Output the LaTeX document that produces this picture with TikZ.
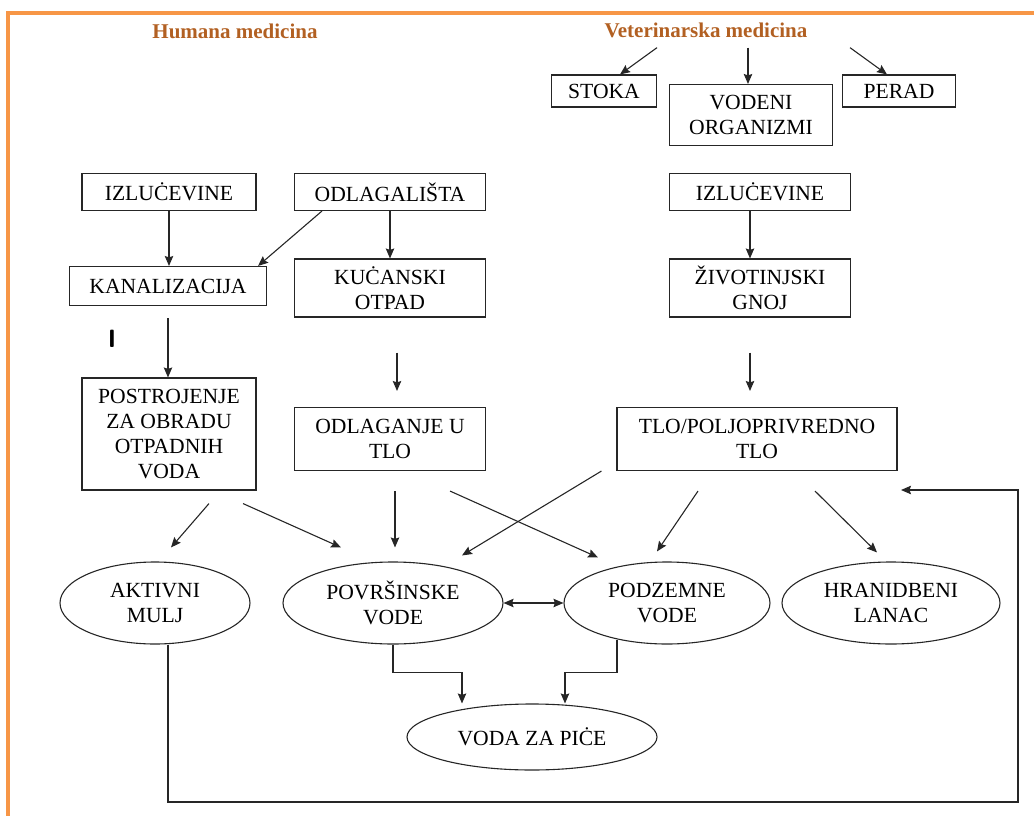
\documentclass[tikz,border=0pt]{standalone}
\usepackage{fontspec}
\setmainfont{Liberation Serif}
\usetikzlibrary{arrows.meta, shapes.geometric}
\definecolor{headbrown}{RGB}{178,96,34}
\definecolor{frameorange}{RGB}{247,150,70}

\begin{document}
\begin{tikzpicture}[
    x=1pt, y=-1pt,
    >={Stealth[length=10pt,width=8.5pt,inset=1.5pt]},
    font=\fontsize{21.6}{25}\selectfont,
    box/.style={draw=black!85, line width=1.1pt, rectangle, inner sep=0pt, align=center},
    oval/.style={draw=black!85, line width=1.1pt, ellipse, inner xsep=-12pt, inner ysep=-6pt, align=center},
    head/.style={text=headbrown, font=\fontsize{21}{23}\selectfont\bfseries, inner sep=0pt},
    flow/.style={->, draw=black!85, line width=1.1pt}
]
\useasboundingbox (0,0) rectangle (1034,816);
\draw[frameorange, line width=3.5pt] (8,830) -- (8,13) -- (1040,13);

\node[head] (hum) at (235,31) {Humana medicina};
\node[head] (vet) at (706,30) {Veterinarska medicina};

% gornji red
\node[box, minimum width=105pt, minimum height=32pt] (stoka) at (604,91) {STOKA};
\node[box, minimum width=163pt, minimum height=61pt] (vodeni) at (751,115) {VODENI\\ORGANIZMI};
\node[box, minimum width=113pt, minimum height=32pt] (perad) at (899,91) {PERAD};

\node[box, minimum width=174pt, minimum height=37pt] (izl1) at (169,192) {IZLUĊEVINE};
\node[box, minimum width=191pt, minimum height=37pt] (odl) at (390,192) {ODLAGALIŠTA};
\node[box, minimum width=181pt, minimum height=37pt] (izl2) at (760,192) {IZLUĊEVINE};

\node[box, minimum width=197pt, minimum height=39pt] (kan) at (168,286) {KANALIZACIJA};
\node[box, minimum width=191pt, minimum height=58pt] (kuc) at (390,288) {KUĊANSKI\\OTPAD};
\node[box, minimum width=181pt, minimum height=58pt] (ziv) at (760,288) {ŽIVOTINJSKI\\GNOJ};

\node[font=\sffamily\bfseries\fontsize{25}{27}\selectfont] (mark) at (112,339) {I};

\node[box, minimum width=174pt, minimum height=112pt] (post) at (169,434) {POSTROJENJE\\ZA OBRADU\\OTPADNIH\\VODA};
\node[box, minimum width=191pt, minimum height=63pt] (odlg) at (390,439) {ODLAGANJE U\\TLO};
\node[box, minimum width=280pt, minimum height=63pt] (tlo) at (757,439) {TLO/POLJOPRIVREDNO\\TLO};

% vode
\node[oval, minimum width=190pt, minimum height=82pt] (akt) at (155,603) {AKTIVNI\\MULJ};
\node[oval, minimum width=220pt, minimum height=82pt] (pov) at (393,603) {POVRŠINSKE\\VODE};
\node[oval, minimum width=206pt, minimum height=82pt] (pod) at (667,603) {PODZEMNE\\VODE};
\node[oval, minimum width=218pt, minimum height=82pt] (hran) at (891,603) {HRANIDBENI\\LANAC};
\node[oval, minimum width=250pt, minimum height=66pt] (voda) at (532,737) {VODA ZA PIĊE};

\coordinate (backin) at (901,490);
\coordinate (backcorner) at (1018,802);

\draw[flow] ([xshift=-49pt,yshift=-10pt]vet.south) -- ([xshift=16pt]stoka.north);
\draw[flow] ([xshift=42pt,yshift=-10pt]vet.south) -- ([xshift=-3pt]vodeni.north);
\draw[flow] ([xshift=144pt,yshift=-10pt]vet.south) -- ([xshift=-12pt]perad.north);

\draw[flow] (izl1.south) -- (izl1.south |- kan.north);
\draw[flow] ([xshift=28pt]odl.south west) -- ([xshift=-9pt]kan.north east);
\draw[flow] (odl.south) -- (odl.south |- kuc.north);
\draw[flow, shorten <=12pt] (kan.south) -- (kan.south |- post.north);
\draw[flow, shorten <=35pt, shorten >=16pt] ([xshift=7pt]kuc.south) -- ([xshift=7pt]kuc.south |- odlg.north);
\draw[flow] ([xshift=-10pt]izl2.south) -- ([xshift=-10pt]izl2.south |- ziv.north);
\draw[flow, shorten <=35pt, shorten >=16pt] ([xshift=-10pt]ziv.south) -- ([xshift=-10pt]ziv.south |- tlo.north);

\draw[flow] ([xshift=40pt,yshift=-13pt]post.south) -- ([xshift=16pt,yshift=14pt]akt.north);
\draw[flow] ([xshift=74pt,yshift=-13pt]post.south) -- ([xshift=-52pt,yshift=14pt]pov.north);
\draw[flow, shorten <=20pt, shorten >=14pt] ([xshift=5pt]odlg.south) -- ([xshift=5pt]odlg.south |- pov.north);
\draw[flow] ([xshift=60pt,yshift=-20pt]odlg.south) -- ([xshift=-69pt,yshift=4pt]pod.north);
\draw[flow] ([xshift=-15pt]tlo.south west) -- ([xshift=69pt,yshift=6pt]pov.north);
\draw[flow] ([xshift=-59pt,yshift=-20pt]tlo.south) -- ([xshift=-10pt,yshift=10pt]pod.north);
\draw[flow] ([xshift=58pt,yshift=-20pt]tlo.south) -- ([xshift=-14pt,yshift=9pt]hran.north);
\draw[flow, <->] (pov.east) -- (pod.west);

\draw[flow] (pov.south) -- ++(0,28) -| ([xshift=-70pt]voda.north);
\draw[flow] ([xshift=-50pt,yshift=5pt]pod.south) -- ++(0,33) -| ([xshift=33pt]voda.north);
\draw[flow] ([xshift=13pt]akt.south) |- (backcorner) |- (backin);
\end{tikzpicture}
\end{document}
